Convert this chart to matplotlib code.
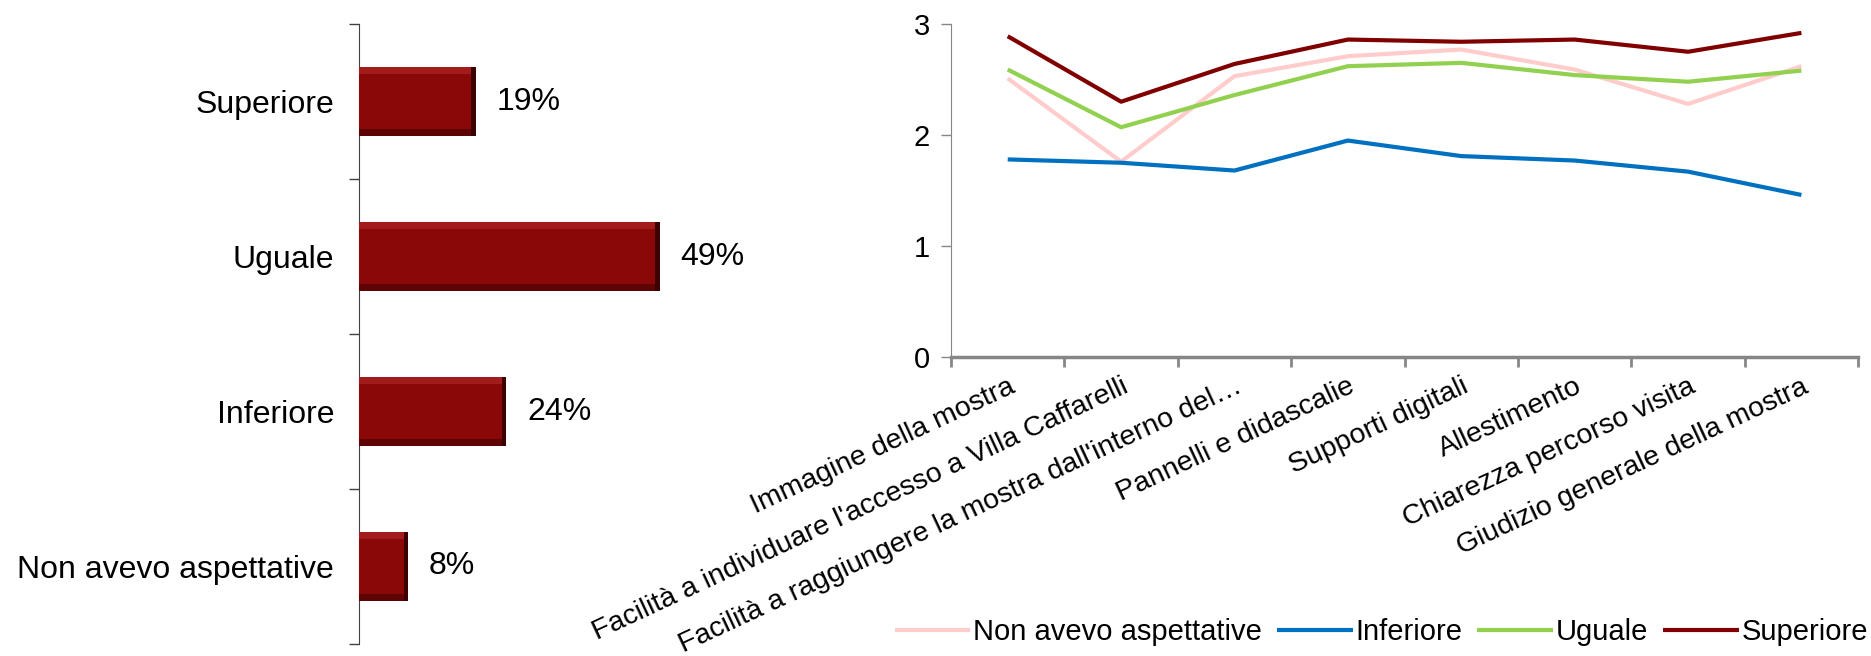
import matplotlib.pyplot as plt
import numpy as np

plt.rcParams['font.family'] = ['Liberation Sans', 'DejaVu Sans']

# left chart: expectations vs experience
exp_labels = ['Superiore', 'Uguale', 'Inferiore', 'Non avevo aspettative']
exp_pct = [19, 49, 24, 8]

# right chart: mean ratings by expectation group
aspects = ['Immagine della mostra',
           "Facilità a individuare l'accesso a Villa Caffarelli",
           "Facilità a raggiungere la mostra dall'interno del…",
           'Pannelli e didascalie',
           'Supporti digitali',
           'Allestimento',
           'Chiarezza percorso visita',
           'Giudizio generale della mostra']
non_avevo = [2.51, 1.76, 2.53, 2.71, 2.77, 2.59, 2.28, 2.62]
inferiore = [1.78, 1.75, 1.68, 1.95, 1.81, 1.77, 1.67, 1.46]
uguale = [2.59, 2.07, 2.36, 2.62, 2.65, 2.54, 2.48, 2.58]
superiore = [2.89, 2.30, 2.64, 2.86, 2.84, 2.86, 2.75, 2.92]

series = [('Non avevo aspettative', non_avevo, '#FFCCCC'),
          ('Inferiore', inferiore, '#0070C0'),
          ('Uguale', uguale, '#92D050'),
          ('Superiore', superiore, '#800000')]

fig = plt.figure(figsize=(18.71, 6.56), dpi=100)

# ---- left: horizontal bars with a bit of bevel ----
ax1 = fig.add_axes([0.1919, 0.0183, 0.1967, 0.9451])
ypos = np.arange(len(exp_labels))
vals = np.array(exp_pct, dtype=float)
h = 0.45
hb = 0.05
bw = 0.7
ax1.barh(ypos, vals, height=h, color='#3E0101', zorder=2)
ax1.barh(ypos - h / 2 + hb / 2, vals - bw, height=hb, color='#A31C1C', zorder=3)
ax1.barh(ypos + h / 2 - hb / 2, vals - bw, height=hb, color='#5E0404', zorder=3)
ax1.barh(ypos, vals - bw, height=h - 2 * hb, color='#8A0808', zorder=4)
for y, v in zip(ypos, exp_pct):
    ax1.annotate(f'{v}%', (v, y), xytext=(15, 0), textcoords='offset points',
                 ha='left', va='center', fontsize=23)

ax1.set_xlim(0, 60)
ax1.set_ylim(len(exp_labels) - 0.5, -0.5)
ax1.set_yticks(np.arange(-0.5, len(exp_labels)))
ax1.set_yticklabels([])
ax1.set_yticks(ypos, minor=True)
ax1.set_yticklabels(exp_labels, minor=True, fontsize=23)
ax1.tick_params(axis='y', which='major', length=7, width=1, color='#404040')
ax1.tick_params(axis='y', which='minor', length=0, pad=18)
ax1.set_xticks([])
for s in ['top', 'right', 'bottom']:
    ax1.spines[s].set_visible(False)
ax1.spines['left'].set_color('#404040')

# ---- right: lines ----
ax2 = fig.add_axes([0.5083, 0.4558, 0.4848, 0.5076])
x = np.arange(len(aspects)) + 0.5
for name, vals_s, col in series:
    ax2.plot(x, vals_s, color=col, lw=3, label=name, solid_capstyle='butt')

ax2.set_xlim(0, len(aspects))
ax2.set_ylim(0, 3)
ax2.set_yticks([0, 1, 2, 3])
ax2.tick_params(axis='y', labelsize=21, length=7, width=1, color='#868686', pad=8)
ax2.set_xticks(np.arange(len(aspects) + 1))
ax2.set_xticklabels([])
ax2.set_xticks(x, minor=True)
ax2.set_xticklabels(aspects, minor=True, fontsize=20.5)
ax2.tick_params(axis='x', which='major', length=7, width=2, color='#868686')
ax2.tick_params(axis='x', which='minor', length=0, pad=12)
plt.setp(ax2.get_xticklabels(minor=True), rotation=25, ha='right',
         rotation_mode='anchor')
for s in ['top', 'right']:
    ax2.spines[s].set_visible(False)
ax2.spines['left'].set_color('#868686')
ax2.spines['bottom'].set_color('#868686')
ax2.spines['bottom'].set_linewidth(2.5)

handles, labels = ax2.get_legend_handles_labels()
fig.legend(handles, labels, loc='center right', bbox_to_anchor=(1.0, 0.037),
           ncol=4, frameon=False, fontsize=21, handlelength=2.6,
           handletextpad=0.1, columnspacing=0.5, borderaxespad=0, borderpad=0.1)

fig.savefig('out.png', dpi=100)
